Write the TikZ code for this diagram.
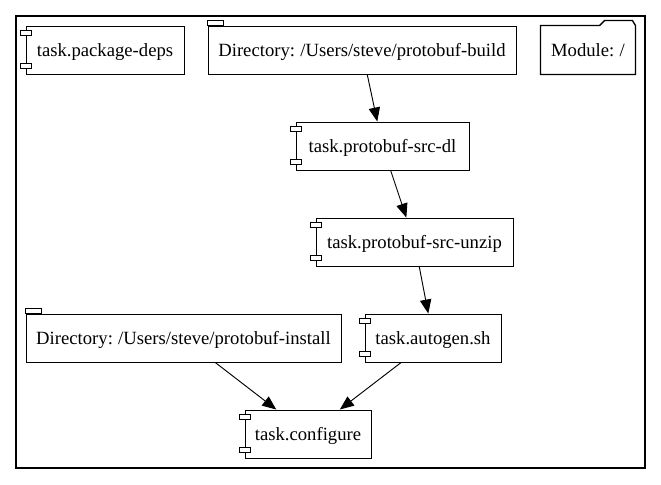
\documentclass[tikz,border=0pt]{standalone}
\usepackage{fontspec}
\setmainfont[WordSpace=0.8]{Liberation Serif}
\usetikzlibrary{arrows.meta}
\usetikzlibrary{calc}

\begin{document}
\begin{tikzpicture}
[x=.75pt,y=-.75pt,>={Triangle[length=10.5pt,width=8.5pt]},line width=.7pt,
every node/.style={draw,rectangle,inner sep=0pt,minimum height=36pt,text height=12pt,text depth=2.2pt,font=\fontsize{14}{16}\selectfont},
pin/.style={fill=white,line width=.9pt},
outline/.style={line width=1pt}]

\useasboundingbox (0,0) rectangle (661,485);

\draw[line width=.8pt] (16,16) rectangle (645,468);

\node[minimum width=118.5pt] (deps) at (105,50) {task.package-deps};
\node[minimum width=231pt] (build) at (362,50) {Directory: /Users/steve/protobuf-build};
\node[draw=none,minimum width=70.5pt] (module) at (588,50) {Module: /};
\node[minimum width=129.75pt] (dl) at (382.5,146) {task.protobuf-src-dl};
\node[minimum width=147.75pt] (unzip) at (414.5,242) {task.protobuf-src-unzip};
\node[minimum width=236.25pt] (install) at (183.5,338) {Directory: /Users/steve/protobuf-install};
\node[minimum width=102pt] (autogen) at (433,338) {task.autogen.sh};
\node[minimum width=94.5pt] (configure) at (308,434) {task.configure};

%folder outline
\draw[outline] (module.north west) -- ($(module.north west)+(59,0)$) -- ($(module.north west)+(64,-5)$)
-- ($(module.north east)+(-3,-5)$) -- (module.north east) -- (module.south east)
-- (module.south west) -- cycle;

%tabs
\foreach \n in {build,install}
\draw[outline] ($(\n.north west)+(0,-5)$) rectangle ($(\n.north west)+(16,0)$);

%pins
\foreach \n in {deps,dl,unzip,autogen,configure} {
\draw[pin] ($(\n.north west)+(-5,5)$) rectangle ($(\n.north west)+(6,10)$);
\draw[pin] ($(\n.south west)+(-5,-11)$) rectangle ($(\n.south west)+(6,-6)$);
}

\foreach \from/\to in {build/dl,dl/unzip,unzip/autogen,install/configure,autogen/configure}
\draw[->] (\from) -- (\to);

\end{tikzpicture}
\end{document}
